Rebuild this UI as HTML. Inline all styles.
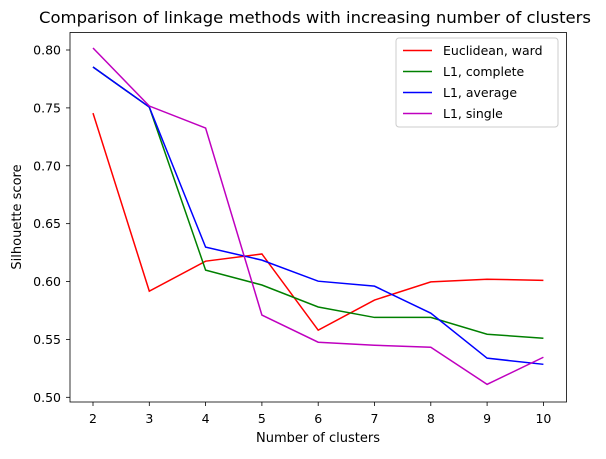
<!DOCTYPE html>
<html><head><meta charset="utf-8"><style>
body{margin:0;background:#fff;font-family:"DejaVu Sans","Liberation Sans",sans-serif;}
</style></head><body>
<svg width="606" height="455" xmlns="http://www.w3.org/2000/svg" font-family="DejaVu Sans, Liberation Sans, sans-serif">
<text x="39" y="23" font-size="16" textLength="552" lengthAdjust="spacingAndGlyphs">Comparison of linkage methods with increasing number of clusters</text>
<g id="ticks"></g>
<g id="lines"></g>
<rect x="70" y="32.5" width="496.5" height="369.5" fill="none" stroke="#000" stroke-width="0.8"/>
<text x="318" y="442" text-anchor="middle" font-size="13">Number of clusters</text>
<text transform="translate(21,217) rotate(-90)" text-anchor="middle" font-size="13">Silhouette score</text>
<g id="legend">
<rect x="396" y="38" width="162" height="89" rx="3" fill="#fff" stroke="#ccc" stroke-width="1"/>
</g>
</svg>
<script>
const categories=[2,3,4,5,6,7,8,9,10];
const wardValues=[0.7455,0.5917,0.6176,0.6238,0.558,0.584,0.5997,0.602,0.601];
const completeValues=[0.7853,0.7507,0.6099,0.597,0.578,0.569,0.569,0.5545,0.551];
const averageValues=[0.7853,0.7507,0.6297,0.6185,0.6003,0.596,0.5727,0.5338,0.5285];
const singleValues=[0.8017,0.7516,0.7326,0.571,0.5476,0.545,0.5432,0.5112,0.5346];
const yTicks=[0.50,0.55,0.60,0.65,0.70,0.75,0.80];
const seriesNames=["Euclidean, ward","L1, complete","L1, average","L1, single"];
const seriesColors=["#ff0000","#008000","#0000ff","#bf00bf"];
const NS="http://www.w3.org/2000/svg";
function xs(v){return 93+(v-2)*56.3;}
function ys(v){return 50+(0.80-v)*1157.7;}
function mk(tag,attrs,parent){const e=document.createElementNS(NS,tag);for(const k in attrs)e.setAttribute(k,attrs[k]);parent.appendChild(e);return e;}
const tg=document.getElementById('ticks');
categories.forEach(c=>{
 const l=mk('line',{x1:xs(c),x2:xs(c),y1:402,y2:406,stroke:'#000','stroke-width':0.8},tg);
 
 
 const t=mk('text',{x:xs(c),y:423,'text-anchor':'middle','font-size':12.5},tg);t.textContent=c;
 
 
});
yTicks.forEach(v=>{
 const l=mk('line',{x1:66,x2:70,y1:ys(v),y2:ys(v),stroke:'#000','stroke-width':0.8},tg);
 
 
 const t=mk('text',{x:61,y:ys(v)+4.5,'text-anchor':'end','font-size':12.5},tg);t.textContent=v.toFixed(2);
 
 
});
const lg=document.getElementById('lines');
const all=[wardValues,completeValues,averageValues,singleValues];
all.forEach((vals,i)=>{
 const p=mk('polyline',{points:vals.map((v,j)=>xs(categories[j])+','+ys(v)).join(' '),fill:'none',stroke:seriesColors[i],'stroke-width':1.5},lg);
 
 
});
const leg=document.getElementById('legend');
seriesNames.forEach((n,i)=>{
 const y=50.5+i*21;
 const l=mk('line',{x1:403,x2:432,y1:y,y2:y,stroke:seriesColors[i],'stroke-width':1.5},leg);
 
 
 const t=mk('text',{x:443,y:y+4.5,'font-size':12.5},leg);t.textContent=n;
 
 
});
</script>
</body></html>
